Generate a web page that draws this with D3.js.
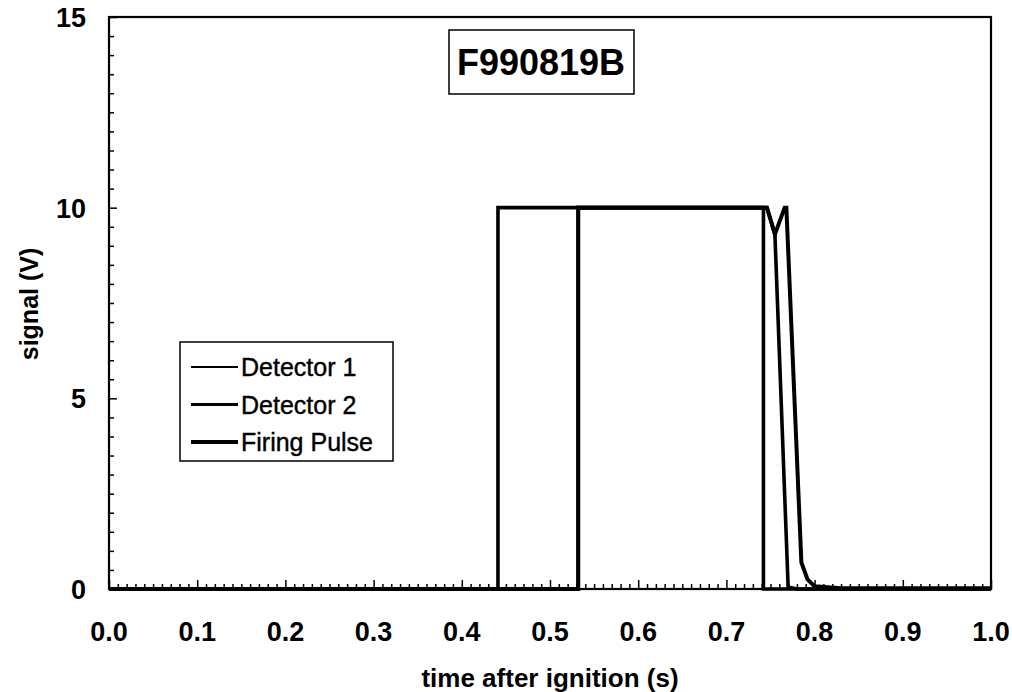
<!DOCTYPE html>
<html>
<head>
<meta charset="utf-8">
<script src="https://cdn.jsdelivr.net/npm/d3@7"></script>
<style>
  body { margin: 0; background: #fff; }
  text { font-family: "Liberation Sans", Arial, sans-serif; fill: #000; }
</style>
</head>
<body>
<svg width="1012" height="692"></svg>
<script>
// set the dimensions of the plot area
canvas_w = 1012;
canvas_h = 692;
plot_left = 109; plot_right = 991;
plot_top = 17; plot_bottom = 589;

// data: [time (s), signal (V)]
const detector1 = [[0, 0], [0.441, 0], [0.441, 10], [0.742, 10], [0.742, 0], [1, 0]];
const detector2 = [[0, 0], [0.532, 0], [0.532, 10], [0.746, 10], [0.755, 9.3], [0.770, 0.05], [0.78, 0], [1, 0]];
const firingPulse = [[0, 0], [0.532, 0], [0.532, 10], [0.746, 10], [0.755, 9.3], [0.766, 10], [0.768, 10],
                     [0.785, 0.7], [0.792, 0.25], [0.80, 0.07], [0.83, 0.02], [1, 0.02]];

const seriesNames = ["Detector 1", "Detector 2", "Firing Pulse"];
const xTicks = [0, 0.1, 0.2, 0.3, 0.4, 0.5, 0.6, 0.7, 0.8, 0.9, 1.0];
const yTicks = [0, 5, 10, 15];
const chartTitle = "F990819B";

const svg = d3.select("svg");

const x = d3.scaleLinear().domain([0, 1]).range([plot_left, plot_right]);
const y = d3.scaleLinear().domain([0, 15]).range([plot_bottom, plot_top]);

// minor ticks on the bottom axis (every 0.01, taller every 0.1)
svg.append("g")
  .attr("transform", "translate(0," + plot_bottom + ")")
  .call(d3.axisBottom(x).tickValues(d3.range(0, 101).map(i => i / 100))
    .tickSize(-5).tickFormat(""))
  .call(g => g.select(".domain").remove())
  .selectAll("line").attr("stroke", "#000").attr("stroke-width", 1.5)
  .attr("y2", (d) => Math.round(d * 100) % 10 === 0 ? -9 : -5);

// minor ticks on the left axis (every 0.5 V)
svg.append("g")
  .attr("transform", "translate(" + plot_left + ",0)")
  .call(d3.axisLeft(y).tickValues(d3.range(0, 31).map(i => i / 2)).tickSize(-5).tickFormat(""))
  .call(g => g.select(".domain").remove())
  .selectAll("line").attr("stroke", "#000").attr("stroke-width", 1.5)
  .attr("x2", (d) => d % 5 === 0 ? 8 : 5);

// tick labels
svg.append("g").selectAll("text")
  .data(xTicks)
  .join("text")
    .attr("x", d => x(d))
    .attr("y", 641)
    .attr("text-anchor", "middle")
    .style("font-size", "27px")
    .style("font-weight", "bold")
    .text(d => d.toFixed(1));

svg.append("g").selectAll("text")
  .data(yTicks)
  .join("text")
    .attr("x", 86)
    .attr("y", d => y(d) + 10)
    .attr("text-anchor", "end")
    .style("font-size", "27px")
    .style("font-weight", "bold")
    .text(d => d);

// the data lines
const line = d3.line().x(d => x(d[0])).y(d => y(d[1]));
const widths = [3.6, 3.6, 4];
[detector1, detector2, firingPulse].forEach(function(s, i) {
  svg.append("path")
    .datum(s)
    .attr("d", line)
    .attr("fill", "none")
    .attr("stroke", "#000")
    .attr("stroke-width", widths[i])
    .attr("stroke-linejoin", "miter");
});

// plot frame
svg.append("rect")
  .attr("x", plot_left).attr("y", plot_top)
  .attr("width", plot_right - plot_left).attr("height", plot_bottom - plot_top)
  .attr("fill", "none").attr("stroke", "#000").attr("stroke-width", 2.2);

// title box
svg.append("rect")
  .attr("x", 449).attr("y", 30).attr("width", 185).attr("height", 64)
  .attr("fill", "#fff").attr("stroke", "#000").attr("stroke-width", 1.5);
svg.append("text")
  .attr("x", 541).attr("y", 75)
  .attr("text-anchor", "middle")
  .style("font-size", "36px").style("font-weight", "bold")
  .text(chartTitle);

// legend
const legend = svg.append("g").attr("id", "legend");
legend.append("rect")
  .attr("x", 180).attr("y", 342).attr("width", 213).attr("height", 119)
  .attr("fill", "#fff").attr("stroke", "#000").attr("stroke-width", 1.5);
const legendWidths = [2.2, 2.8, 3.8];
seriesNames.forEach(function(name, i) {
  const ly = 367 + i * 37.5;
  legend.append("line")
    .attr("x1", 191).attr("x2", 238).attr("y1", ly).attr("y2", ly)
    .attr("stroke", "#000").attr("stroke-width", legendWidths[i]);
  legend.append("text")
    .attr("x", 241).attr("y", ly + 9)
    .style("font-size", "25px")
    .style("font-weight", 500)
    .style("stroke", "#000").style("stroke-width", 0.4)
    .text(name);
});

// axis titles
svg.append("text")
  .attr("x", 550).attr("y", 687)
  .attr("text-anchor", "middle")
  .style("font-size", "26px").style("font-weight", "bold")
  .text("time after ignition (s)");

svg.append("text")
  .attr("transform", "translate(38,304) rotate(-90)")
  .attr("text-anchor", "middle")
  .style("font-size", "25px").style("font-weight", "bold")
  .text("signal (V)");
</script>
</body>
</html>
